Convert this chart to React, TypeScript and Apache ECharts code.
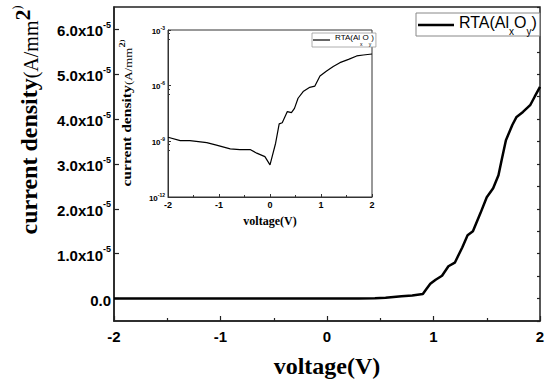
import React, { useEffect, useRef } from "react";
import * as echarts from "echarts";

// Main plot: voltage (V) vs current density (A/mm^2), linear scale
const mainVoltage = [-2, -1.5, -1, -0.5, 0, 0.3, 0.45, 0.55, 0.7, 0.8, 0.9, 0.93, 0.97, 1.02, 1.08, 1.14, 1.2, 1.27, 1.32, 1.37, 1.44, 1.5, 1.56, 1.61, 1.64, 1.68, 1.74, 1.78, 1.84, 1.91, 1.95, 2.0];
const mainDensity = [0, 0, 0, 0, 0, 0, 0.005e-5, 0.02e-5, 0.05e-5, 0.07e-5, 0.1e-5, 0.2e-5, 0.33e-5, 0.42e-5, 0.51e-5, 0.72e-5, 0.8e-5, 1.14e-5, 1.41e-5, 1.5e-5, 1.9e-5, 2.26e-5, 2.46e-5, 2.75e-5, 3.09e-5, 3.53e-5, 3.87e-5, 4.05e-5, 4.16e-5, 4.32e-5, 4.5e-5, 4.72e-5];

// Inset: same measurement on log scale
const insetVoltage = [-2, -1.76, -1.57, -1.24, -1.05, -0.78, -0.59, -0.39, -0.26, -0.1, 0.0, 0.11, 0.18, 0.24, 0.34, 0.42, 0.48, 0.55, 0.65, 0.78, 0.88, 0.98, 1.11, 1.24, 1.37, 1.54, 1.7, 1.83, 2.0];
const insetDensity = [1.66e-9, 1.1e-9, 1.1e-9, 8.5e-10, 6.2e-10, 3.9e-10, 3.6e-10, 3.6e-10, 2.3e-10, 1.5e-10, 5.4e-11, 7.9e-10, 8.7e-9, 1.0e-8, 4.0e-8, 3.5e-8, 6.0e-8, 2.1e-7, 4.8e-7, 8.1e-7, 9.5e-7, 3.3e-6, 6.2e-6, 1.07e-5, 1.74e-5, 2.6e-5, 4.0e-5, 4.5e-5, 5.1e-5];

const xTicks = [-2, -1, 0, 1, 2];
const mainYExponent = -5;
const insetYTicks = [-12, -9, -6, -3];

const seriesLabel = "RTA(AlxOy)";
const insetLabel = "RTA(AlxOy) inset";

export default function App() {
  const ref = useRef<HTMLDivElement>(null);
  useEffect(() => {
    if (!ref.current) return;
    const chart = echarts.init(ref.current, null, { renderer: "svg" });
    const sans = "Liberation Sans";
    const serif = "Liberation Serif";
    const legendFmt = (size: number, sub: number) => ({
      formatter: () => "{t|RTA(Al}{s|x}{t|O}{s|y}{t|)}",
      textStyle: {
        rich: {
          t: { fontFamily: sans, fontSize: size, color: "#000", lineHeight: size + 6, verticalAlign: "top" },
          s: { fontFamily: sans, fontSize: sub, color: "#000", lineHeight: sub + 2, verticalAlign: "bottom" },
        },
      },
    });
    const option: any = {
      animation: false,
      backgroundColor: "#fff",
      grid: [
        { left: 114, right: 10, top: 7, bottom: 67, show: true, borderColor: "#222", borderWidth: 1.5, outerBoundsMode: "none", containLabel: false },
        { left: 168, top: 30, width: 204, height: 167, show: true, backgroundColor: "#fff", borderColor: "#333", borderWidth: 1, outerBoundsMode: "none", containLabel: false },
      ],
      xAxis: [
        {
          gridIndex: 0, type: "value", min: xTicks[0], max: xTicks[xTicks.length - 1], interval: 1,
          axisLine: { show: true, onZero: false, lineStyle: { color: "#222", width: 1.5 } },
          axisTick: { show: true, inside: true, length: 5, lineStyle: { color: "#222", width: 1.2 } },
          minorTick: { show: true, splitNumber: 2, length: 3, lineStyle: { color: "#222", width: 1.2 } },
          splitLine: { show: false },
          axisLabel: { margin: 8, fontFamily: sans, fontWeight: "bold", fontSize: 15, color: "#000", formatter: (v: number) => String(v) },
          name: "voltage(V)", nameLocation: "middle", nameGap: 33,
          nameTextStyle: { fontFamily: serif, fontWeight: "bold", fontSize: 24, color: "#000" },
        },
        {
          gridIndex: 1, type: "value", min: xTicks[0], max: xTicks[xTicks.length - 1], interval: 1,
          axisLine: { show: true, onZero: false, lineStyle: { color: "#333", width: 1 } },
          axisTick: { show: true, inside: true, length: 3, lineStyle: { color: "#333" } },
          minorTick: { show: true, splitNumber: 2, length: 2, lineStyle: { color: "#333" } },
          splitLine: { show: false },
          axisLabel: { margin: 3, fontFamily: sans, fontWeight: "bold", fontSize: 9, color: "#000", formatter: (v: number) => String(v) },
          name: "voltage(V)", nameLocation: "middle", nameGap: 18,
          nameTextStyle: { fontFamily: serif, fontWeight: "bold", fontSize: 12, color: "#000" },
        },
      ],
      yAxis: [
        {
          gridIndex: 0, type: "value", min: -0.5e-5, max: 6.5e-5, splitNumber: 7,
          axisLine: { show: true, onZero: false, lineStyle: { color: "#222", width: 1.5 } },
          axisTick: { show: true, inside: true, length: 5, lineStyle: { color: "#222", width: 1.2 } },
          splitLine: { show: false },
          axisLabel: {
            margin: 3, showMinLabel: false, showMaxLabel: false,
            formatter: (v: number) => {
              const k = Math.round(v / 1e-6);
              if (k % 10 !== 0 || k < 0 || k > 60) return "";
              if (k === 0) return "{a|0.0}";
              return "{a|" + (k / 10).toFixed(1) + "x10}{s|" + mainYExponent + "}";
            },
            rich: {
              a: { fontFamily: sans, fontWeight: "bold", fontSize: 15, color: "#000", lineHeight: 18, verticalAlign: "bottom" },
              s: { fontFamily: sans, fontWeight: "bold", fontSize: 9, color: "#000", lineHeight: 10, verticalAlign: "top" },
            },
          },
        },
        {
          gridIndex: 0, type: "value", min: -0.5e-5, max: 6.5e-5, splitNumber: 14,
          axisLine: { show: false, onZero: false },
          axisTick: { show: true, inside: true, length: 3, lineStyle: { color: "#222", width: 1.2 } },
          splitLine: { show: false },
          axisLabel: { show: false },
        },
        {
          gridIndex: 1, type: "log", logBase: 10, min: Math.pow(10, insetYTicks[0]), max: Math.pow(10, insetYTicks[insetYTicks.length - 1]), interval: 3,
          axisLine: { show: true, onZero: false, lineStyle: { color: "#333", width: 1 } },
          axisTick: { show: true, inside: true, length: 3, lineStyle: { color: "#333" } },
          minorTick: { show: true, splitNumber: 3, length: 2, lineStyle: { color: "#333" } },
          splitLine: { show: false },
          axisLabel: {
            margin: 3,
            formatter: (v: number) => "{a|10}{s|" + Math.round(Math.log10(v)) + "}",
            rich: {
              a: { fontFamily: sans, fontWeight: "bold", fontSize: 8, color: "#000", lineHeight: 10, verticalAlign: "bottom" },
              s: { fontFamily: sans, fontWeight: "bold", fontSize: 5, color: "#000", lineHeight: 6, verticalAlign: "top" },
            },
          },
        },
      ],
      legend: [
        {
          data: [seriesLabel], left: 416, top: 13, orient: "vertical", icon: "rect",
          itemWidth: 36, itemHeight: 2.5, itemGap: 0, padding: [1, 3, 0, 2],
          borderColor: "#888", borderWidth: 1, backgroundColor: "#fff",
          selectedMode: false,
          ...legendFmt(16, 10),
        },
        {
          data: [insetLabel], left: 312, top: 33, orient: "vertical", icon: "rect",
          itemWidth: 17, itemHeight: 1.2, itemGap: 0, padding: [0, 2, 0, 1],
          borderColor: "#999", borderWidth: 0.8, backgroundColor: "#fff",
          selectedMode: false,
          ...legendFmt(8, 5),
        },
      ],
      graphic: [
        {
          type: "text", x: 26, y: 120, rotation: Math.PI / 2,
          style: {
            text: "{a|current density}{b|(A/mm}{c|2}{d|)}",
            align: "center", verticalAlign: "middle", textAlign: "center", textVerticalAlign: "middle",
            rich: {
              a: { fontFamily: serif, fontWeight: "bold", fontSize: 24, lineHeight: 30, verticalAlign: "bottom", fill: "#000" },
              b: { fontFamily: serif, fontSize: 20, lineHeight: 26, verticalAlign: "bottom", fill: "#000" },
              c: { fontFamily: serif, fontWeight: "bold", fontSize: 22, lineHeight: 22, verticalAlign: "top", fill: "#000" },
              d: { fontFamily: serif, fontSize: 12, lineHeight: 14, verticalAlign: "top", fill: "#000" },
            },
          },
        },
        {
          type: "text", x: 126, y: 113, rotation: Math.PI / 2, scaleX: 1.3,
          style: {
            text: "{a|current density}{b|(A/mm}{c|2}{d|)}",
            align: "center", verticalAlign: "middle", textAlign: "center", textVerticalAlign: "middle",
            rich: {
              a: { fontFamily: serif, fontWeight: "bold", fontSize: 12, lineHeight: 15, verticalAlign: "bottom", fill: "#000" },
              b: { fontFamily: serif, fontSize: 10, lineHeight: 13, verticalAlign: "bottom", fill: "#000" },
              c: { fontFamily: serif, fontWeight: "bold", fontSize: 8, lineHeight: 10, verticalAlign: "top", fill: "#000" },
              d: { fontFamily: serif, fontSize: 7, lineHeight: 10, verticalAlign: "top", fill: "#000" },
            },
          },
        },
      ],
      series: [
        {
          type: "line", name: seriesLabel, xAxisIndex: 0, yAxisIndex: 0,
          data: mainVoltage.map((v, i) => [v, mainDensity[i]]),
          symbol: "none", lineStyle: { color: "#000", width: 2.5 }, itemStyle: { color: "#000" },
        },
        {
          type: "line", name: insetLabel, xAxisIndex: 1, yAxisIndex: 2,
          data: insetVoltage.map((v, i) => [v, insetDensity[i]]),
          symbol: "none", lineStyle: { color: "#000", width: 1.2 }, itemStyle: { color: "#000" },
        },
      ],
    };
    chart.setOption(option);
    return () => chart.dispose();
  }, []);
  return <div ref={ref} style={{ position: "fixed", left: 0, top: 0, width: 550, height: 388, background: "#fff" }} />;
}
